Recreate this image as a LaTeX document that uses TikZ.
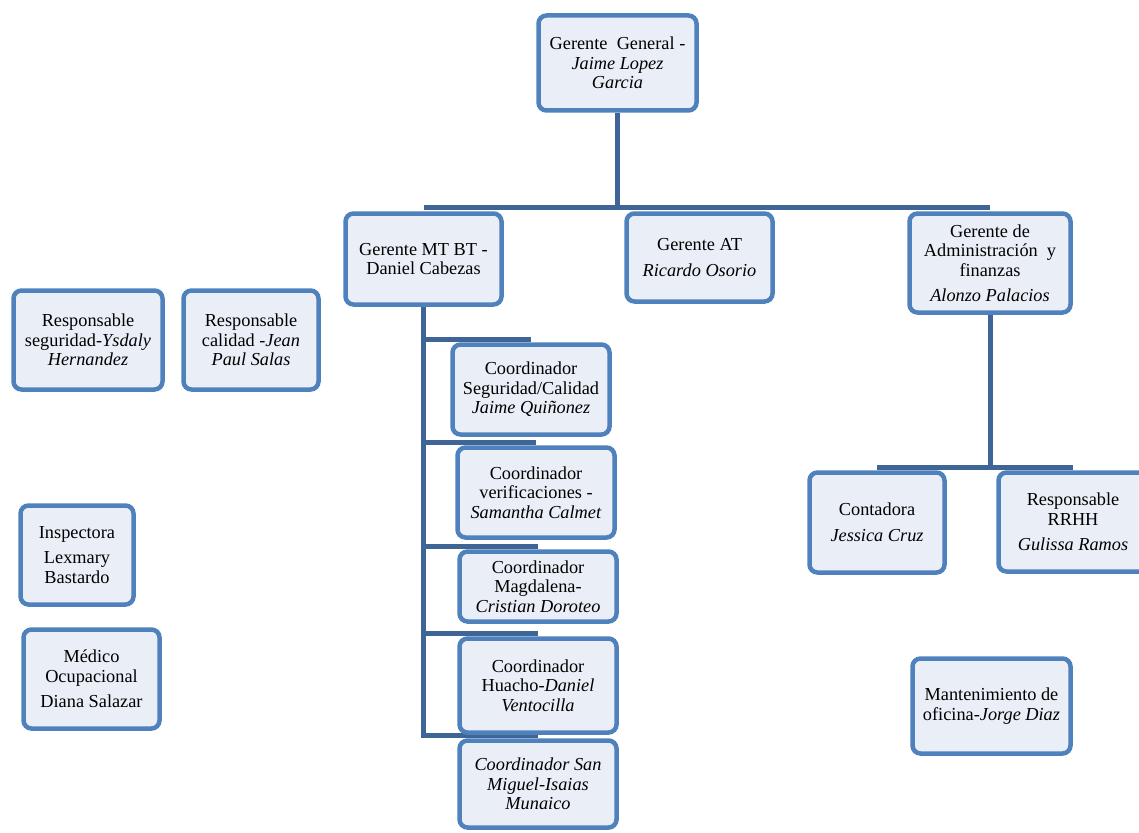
\documentclass[tikz,border=0pt]{standalone}
\usepackage{fontspec}
\setmainfont{Liberation Serif}
\usetikzlibrary{backgrounds}
\definecolor{bordc}{RGB}{79,129,189}
\definecolor{fillc}{RGB}{234,239,247}
\definecolor{connc}{RGB}{63,101,151}
\tikzset{
  box/.style={draw=bordc, fill=fillc, line width=4.5pt, rounded corners=8pt,
    align=center, inner sep=2pt, font=\fontsize{18.3}{19.5}\selectfont},
  conn/.style={draw=connc, line width=5pt}
}
\begin{document}
\begin{tikzpicture}[x=1pt,y=-1pt]
\useasboundingbox (0,0) rectangle (1139,832);
\path
 node[box, minimum width=158pt, minimum height=95pt] (gg) at (617.5,63)
   {Gerente\ \ General -\\ \textit{Jaime Lopez}\\ \textit{Garcia}}
 node[box, minimum width=156pt, minimum height=91pt] (mt) at (423.5,259)
   {Gerente MT BT -\\ Daniel Cabezas}
 node[box, minimum width=146pt, minimum height=88pt] (at) at (699.5,257.5)
   {Gerente AT\\[7pt] \textit{Ricardo Osorio}}
 node[box, minimum width=161pt, minimum height=99pt] (adm) at (990,263)
   {Gerente de\\ Administración\ \ y\\ finanzas\\[6pt] \textit{Alonzo Palacios}}
 node[box, minimum width=149pt, minimum height=99pt] (rs) at (88,340)
   {Responsable\\ seguridad-\textit{Ysdaly}\\ \textit{Hernandez}}
 node[box, minimum width=135pt, minimum height=99pt] (rc) at (251,340)
   {Responsable\\ calidad\ -\textit{Jean}\\ \textit{Paul Salas}}
 node[box, minimum width=157pt, minimum height=90pt] (c1) at (531,389.5)
   {Coordinador\\ Seguridad/Calidad\\ \textit{Jaime Quiñonez}}
 node[box, minimum width=157pt, minimum height=90pt] (c2) at (536,492.5)
   {Coordinador\\ verificaciones\ -\\ \textit{Samantha Calmet}}
 node[box, minimum width=157pt, minimum height=70pt] (c3) at (538,586.5)
   {Coordinador\\ Magdalena-\\ \textit{Cristian Doroteo}}
 node[box, minimum width=157pt, minimum height=94pt] (c4) at (538,685.5)
   {Coordinador\\ Huacho-\textit{Daniel}\\ \textit{Ventocilla}}
 node[box, minimum width=157pt, minimum height=87pt] (c5) at (538,784)
   {\textit{Coordinador San}\\ \textit{Miguel-Isaias}\\ \textit{Munaico}}
 node[box, minimum width=113pt, minimum height=99pt] (insp) at (77,555)
   {Inspectora\\[6pt] Lexmary\\ Bastardo}
 node[box, minimum width=136pt, minimum height=99pt] (med) at (91.5,679)
   {Médico\\ Ocupacional\\[6pt] Diana Salazar}
 node[box, minimum width=135pt, minimum height=100pt] (cont) at (877,522.5)
   {Contadora\\[7pt] \textit{Jessica Cruz}}
 node[box, minimum width=149pt, minimum height=99pt] (rrhh) at (1073,522)
   {Responsable\\ RRHH\\[6pt] \textit{Gulissa Ramos}}
 node[box, minimum width=158pt, minimum height=95pt] (mant) at (991.5,706)
   {Mantenimiento de\\ oficina-\textit{Jorge Diaz}};
\begin{scope}[on background layer]
 % top level
 \path (mt.north) ++(0,-3.5) coordinate (hl);
 \path (adm.north) ++(0,-3.5) coordinate (hr);
 \draw[conn] (gg.south) -- (gg.south |- hl);
 \draw[conn] (hl) -- (hr);
 % MT BT branch
 \foreach \c in {c1,c2,c3,c4,c5}{
   \draw[conn] ([yshift=3pt]\c.north) -| (mt.south);
 }
 % administration branch
 \path (cont.north) ++(0,-3) coordinate (al);
 \path (rrhh.north) ++(0,-3) coordinate (ar);
 \draw[conn] (adm.south) -- (adm.south |- al);
 \draw[conn] (al) -- (ar);
\end{scope}
\end{tikzpicture}
\end{document}
